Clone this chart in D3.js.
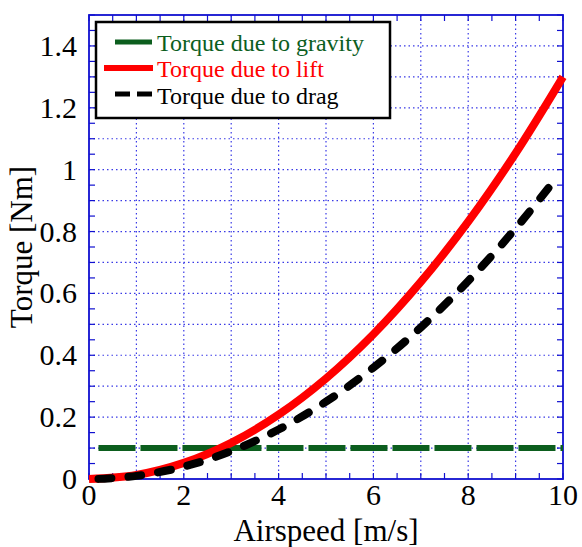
<!DOCTYPE html>
<html lang="en"><head><meta charset="utf-8">
<script src="https://cdn.jsdelivr.net/npm/d3@7"></script>
<style>
html,body{margin:0;background:#fff;}
.s{font-family:Tinos,"Liberation Serif","Times New Roman",serif;}
</style>
</head><body>
<svg id="c" width="582" height="547"></svg>
<script>
// Data
const liftSpeed = [0, 1, 2, 3, 4, 5, 6, 7, 8, 9, 10];
const liftTorque = [0, 0.013, 0.052, 0.117, 0.208, 0.325, 0.468, 0.637, 0.832, 1.053, 1.3];
const dragSpeed = [0.2, 1, 2, 3, 4, 5, 6, 7, 8, 9, 9.87];
const dragTorque = [0.0004, 0.01, 0.04, 0.09, 0.16, 0.25, 0.36, 0.49, 0.64, 0.81, 0.975];
const gravitySpeed = [0.2, 10];
const gravityTorque = [0.1, 0.1];
const xTickLabels = [0, 2, 4, 6, 8, 10];
const yTickLabels = [0, 0.2, 0.4, 0.6, 0.8, 1, 1.2, 1.4];
const legendLabels = ["Torque due to gravity", "Torque due to lift", "Torque due to drag"];

const svg = d3.select("#c");
const L = 89, R = 563, T = 15, B = 479;
const x = d3.scaleLinear().domain([0, 10]).range([L, R]);
const y = d3.scaleLinear().domain([0, 1.5]).range([B, T]);
const blue = "#1010d0";

// grid
const gx = d3.range(1, 10, 1), gy = d3.range(1, 15, 1).map(d => d / 10);
svg.append("g").selectAll("line").data(gx).join("line")
  .attr("x1", d => x(d)).attr("x2", d => x(d)).attr("y1", T).attr("y2", B)
  .attr("stroke", "#3a3ae6").attr("stroke-width", 1.2).attr("stroke-dasharray", "1.5,3");
svg.append("g").selectAll("line").data(gy).join("line")
  .attr("y1", d => y(d)).attr("y2", d => y(d)).attr("x1", L).attr("x2", R)
  .attr("stroke", "#3a3ae6").attr("stroke-width", 1.2).attr("stroke-dasharray", "1.5,3");

// inward ticks on all four sides
const xt = d3.range(0, 10.01, 0.5), yt = d3.range(0, 1.501, 0.05);
const tk = svg.append("g").attr("stroke", blue).attr("stroke-width", 1.2);
tk.selectAll("line.xb").data(xt).join("line").attr("class", "xb")
  .attr("x1", d => x(d)).attr("x2", d => x(d)).attr("y1", B).attr("y2", B - 6);
tk.selectAll("line.xt").data(xt).join("line").attr("class", "xt")
  .attr("x1", d => x(d)).attr("x2", d => x(d)).attr("y1", T).attr("y2", T + 6);
tk.selectAll("line.yl").data(yt).join("line").attr("class", "yl")
  .attr("y1", d => y(d)).attr("y2", d => y(d)).attr("x1", L).attr("x2", L + 6);
tk.selectAll("line.yr").data(yt).join("line").attr("class", "yr")
  .attr("y1", d => y(d)).attr("y2", d => y(d)).attr("x1", R).attr("x2", R - 6);
svg.append("rect").attr("x", L).attr("y", T).attr("width", R - L).attr("height", B - T)
  .attr("fill", "none").attr("stroke", blue).attr("stroke-width", 1.8);

// tick labels
const tl = svg.append("g");
tl.selectAll("text.x").data(xTickLabels).join("text").attr("class", "x s")
  .attr("x", d => x(d)).attr("y", 505).attr("text-anchor", "middle")
  .attr("font-size", 30).attr("fill", "#000").text(d => String(d));
tl.selectAll("text.y").data(yTickLabels).join("text").attr("class", "y s")
  .attr("x", 77).attr("y", d => y(d) + 10).attr("text-anchor", "end")
  .attr("font-size", 30).attr("fill", "#000").text(d => String(d));

// titles
svg.append("text").attr("class", "s").attr("x", x(5)).attr("y", 541).attr("text-anchor", "middle")
  .attr("font-size", 31).text("Airspeed [m/s]");
svg.append("text").attr("class", "s").attr("transform", `translate(32,${(T + B) / 2}) rotate(-90)`).attr("text-anchor", "middle")
  .attr("font-size", 31).text("Torque [Nm]");

// lines
const line = d3.line().x(d => x(d[0])).y(d => y(d[1])).curve(d3.curveCatmullRom);
const plot = svg.append("g");
plot.append("path").datum(gravitySpeed.map((s, i) => [s, gravityTorque[i]]))
  .attr("d", line).attr("fill", "none").attr("stroke", "#0c5e1e").attr("stroke-width", 6)
  .attr("stroke-dasharray", "37,5");
plot.append("path").datum(liftSpeed.map((s, i) => [s, liftTorque[i]]))
  .attr("d", line).attr("fill", "none").attr("stroke", "#ff0000").attr("stroke-width", 8)
  .attr("stroke-linecap", "butt");
plot.append("path").datum(dragSpeed.map((s, i) => [s, dragTorque[i]]))
  .attr("d", line).attr("fill", "none").attr("stroke", "#000").attr("stroke-width", 8)
  .attr("stroke-dasharray", "13,17").attr("stroke-linecap", "round");

// legend
const lg = svg.append("g");
lg.append("rect").attr("x", 96).attr("y", 22).attr("width", 294).attr("height", 96)
  .attr("fill", "#fff").attr("stroke", "#000").attr("stroke-width", 2.5);
const colors = ["#0c5e1e", "#ff0000", "#000"];
const ly = [42, 68, 94], ty = [51, 77, 104];
lg.append("line").attr("x1", 115).attr("x2", 152).attr("y1", ly[0]).attr("y2", ly[0])
  .attr("stroke", colors[0]).attr("stroke-width", 5);
lg.append("line").attr("x1", 104).attr("x2", 153).attr("y1", ly[1]).attr("y2", ly[1])
  .attr("stroke", colors[1]).attr("stroke-width", 6);
lg.append("line").attr("x1", 115).attr("x2", 152).attr("y1", ly[2]).attr("y2", ly[2])
  .attr("stroke", colors[2]).attr("stroke-width", 5).attr("stroke-dasharray", "15,7");
lg.selectAll("text.l").data(legendLabels).join("text").attr("class", "l s")
  .attr("x", 157).attr("y", (d, i) => ty[i]).attr("font-size", 24)
  .attr("fill", (d, i) => colors[i]).text(d => d);
</script>
</body></html>
